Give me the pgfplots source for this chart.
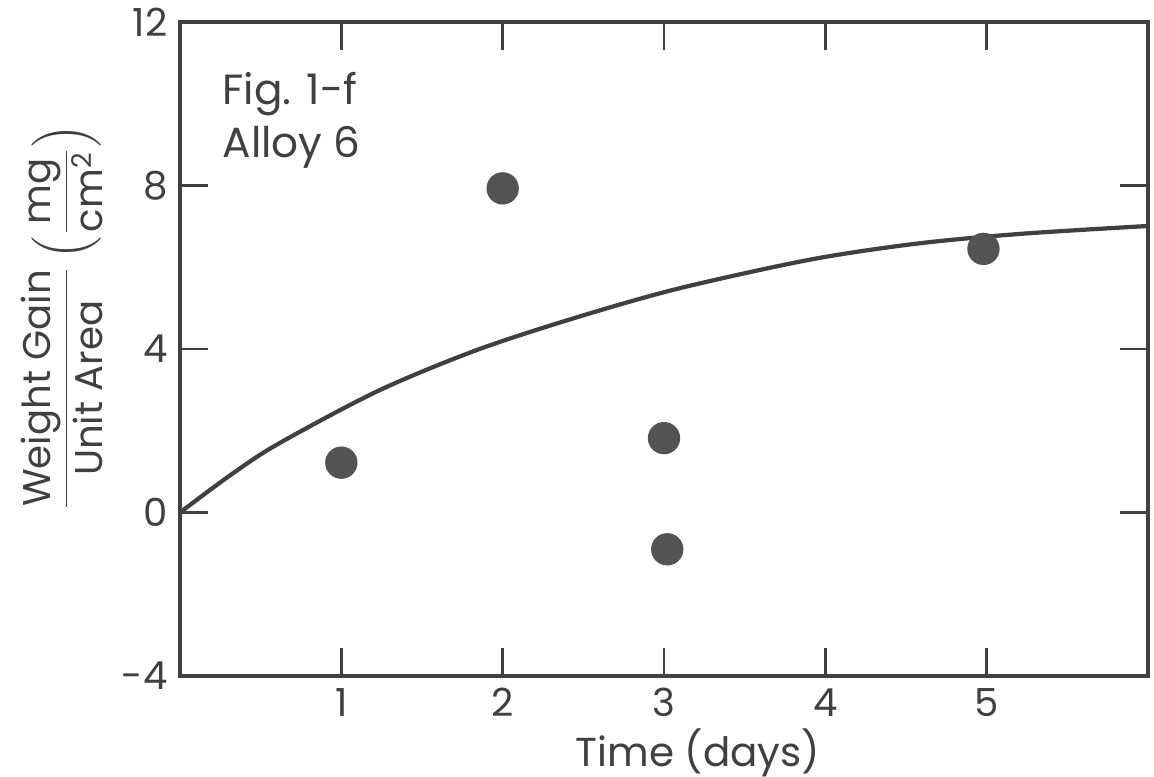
\documentclass[border=0pt]{standalone}
\usepackage{fontspec}
\setmainfont{Poppins}
\usepackage{amsmath}
\usepackage{pgfplots}
\pgfplotsset{compat=1.18}
\definecolor{ink}{gray}{0.25}
\begin{document}
\begin{tikzpicture}
\begin{axis}[name=ax, scale only axis, width=9.68cm, height=6.54cm,
  xmin=0, xmax=6, ymin=-4, ymax=12,
  xtick={1,2,3,4,5}, xticklabels={1,2,3,4,5},
  ytick={-4,0,4,8,12}, yticklabels={-4,0,4,8,12},
  tick align=inside, major tick length=0.28cm,
  axis line style={ink, line width=0.9pt},
  every tick/.style={ink, line width=0.8pt},
  tick label style={font=\fontsize{11}{13}\selectfont, text=ink},
  every axis y label/.style={at={(axis description cs:-0.122,0.548)}, rotate=90, anchor=center, font=\fontsize{11}{13}\selectfont, text=ink},
  every axis x label/.style={at={(axis description cs:0.535,-0.118)}, anchor=center, font=\fontsize{11.5}{13}\selectfont, text=ink},
  xlabel={Time (days)},
  ylabel={$\dfrac{\text{Weight Gain}}{\text{Unit Area}}\left(\dfrac{\text{mg}}{\text{cm}^{\text{2}}}\right)$},
  clip=false]
\addplot[ink, line width=1.2pt, smooth, tension=0.5] coordinates {
  (0,0) (0.3,0.88) (0.6,1.66) (1.23,2.98) (1.85,3.99) (2.48,4.80) (3.10,5.49)
  (3.91,6.19) (4.57,6.58) (5.22,6.82) (6.0,7.01)};
\addplot[only marks, mark=*, mark size=4.4pt, mark options={fill=ink!90, draw=ink!90}] coordinates {
  (1.0,1.22) (2.0,7.93) (3.0,1.82) (3.02,-0.90) (4.98,6.45)};
\node[anchor=north west, inner sep=0pt, align=left, text=ink, font=\fontsize{12}{15}\selectfont] at (axis cs:0.26,10.78) {Fig. 1-f\\Alloy 6};
\end{axis}
\pgfresetboundingbox
\path[use as bounding box] ([shift={(-1.80cm,-1.00cm)}]ax.south west) rectangle ([shift={(0.06cm,0.22cm)}]ax.north east);
\end{tikzpicture}
\end{document}
